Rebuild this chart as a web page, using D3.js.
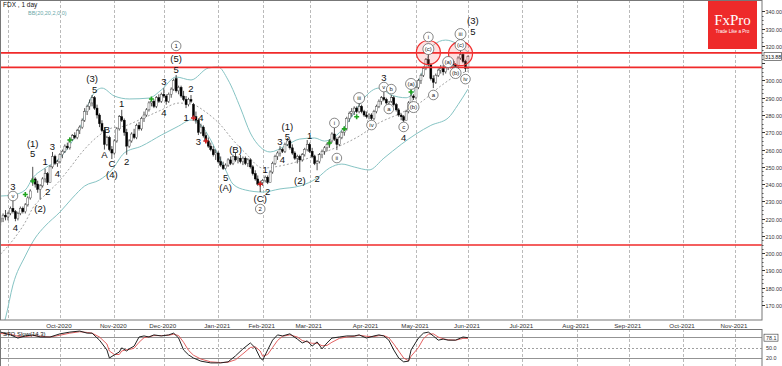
<!DOCTYPE html>
<html><head><meta charset="utf-8">
<script src="https://cdn.jsdelivr.net/npm/d3@7/dist/d3.min.js"></script>
<style>
html,body{margin:0;padding:0;background:#fff;overflow:hidden;}
svg{display:block;font-family:"Liberation Sans",Arial,sans-serif;}
</style></head><body>
<svg id="c" width="782" height="366"></svg>
<script>
// ---------------- DATA ----------------
const symbolTitle = "FDX , 1 day";
const bbTitle = "BB(20,20,2,0,0)";
const stochTitle = "STO Slow(14,3)";
const firstBarIndex = -3;           // bar index of first candle (0 = first bar of Sep-2020)
// daily candles [open, high, low, close]
const candles = [
[218,221,216,220],[220,223,218,222],[222,225,219,221],[221,224,219,223],[223,227,222,226],
[226,231,223,224],[224,225,218.5,220],[220,224,219,223],[223,227,222,226],[226,227,223,224],
[224,229,223,228],[228,233,227,232],[232,237,231,236],[241,250,239,243],[243,244,238,240],
[240,242,235,237],[237,240,231,239],[239,244,238,243],[243,249,241,246],[246,247,239.5,241],
[241,251,241,250],[250,258.6,249,256],[256,257,251,252],[252,254,250,253],[253,258,252,257],
[257,260,255,259],[259,263,258,262],[262,264,260,261],[261,267,260,266],[266,269,265,268],
[268,270,266,267],[267,272,266,271],[271,274,269,273],[273,278,272,277],[277,284,276,282],
[282,286,280,285],[285,289,283,287],[287,291.6,285,290],[290,291,283,284],[284,286,278,280],
[280,281,273,275],[275,277,270,271],[271,273,260,263],[263,268,262,267],[267,268,259,260],
[260,262,254.5,258],[258,266,257,265],[265,273,264,272],[272,280,271,279],[279,283,276,277],
[277,278,268,270],[270,272,257,262],[262,266,261,265],[265,270,264,269],[269,272,266,267],
[267,275,266,274],[274,276,271,272],[272,279,271,278],[278,282,276,280],[280,284,279,283],
[283,288,282,287],[287,290,285,288],[288,289,284,285],[285,291,284,290],[290,292,287,288],
[288,293,287,292],[292,295.6,290,291],[291,292,286,288],[288,293,287,292],[292,296,290,295],
[295,301,294,300],[301,303.2,293,294],[294,297,292,296],[296,297,290,291],[291,294,288,289],
[289,291,284,286],[286,290,285,289],[289,291.6,287,288],[286,287,277,279],[279,282,275,277],
[277,278,268.4,270],[270,275,269,273],[273,274,267,268],[268,270,264,265],[265,267,261,262],
[262,264,259,260],[260,262,256,257],[257,260,254,258],[258,259,252,253],[253,256,250,251],
[251,253,248.2,249],[249,252,248.5,251],[251,255,250,254],[254,256,251,252],[252,257,251,256],
[256,258,253,254],[254,256,252,255],[255,257,252,253],[253,256,251,255],[255,256,251,252],
[252,255,250,254],[254,255,249,250],[250,251,245,246],[246,248,242,243],[243,245,239,240],
[240,242,235.4,241],[241,243,239,242],[242,245,241,244],[244,245,240,241],[241,248,241,247],
[247,253,246,252],[252,257,251,256],[256,259,254,258],[258,262,256,260],[260,261,258,259],
[259,264,258,263],[263,266.7,262,265],[265,266,260,261],[261,263,257,258],[258,259,254,255],
[255,257,252,256],[256,257,247,254],[254,258,253,257],[257,261,256,260],[260,265.5,259,263],
[263,264,258,259],[259,261,255,256],[256,257,251,252],[252,254,248,253],[253,258,252,257],
[257,260,255,259],[259,262,257,261],[261,264,259,263],[263,266,261,265],[265,270,264,269],
[269,272.5,265,266],[266,267,259.7,263],[263,268,262,267],[267,271,266,270],[270,273,268,272],
[272,279,271,278],[278,282,276,281],[281,284,279,282],[282,285,280,284],[284,285,281,282],
[282,287,281,285],[285,286,281,282],[282,283,279,280],[280,282,278,279],[279,281,277.5,280],
[280,281,277,278],[278,283,277,282],[282,286,281,285],[285,289,284,288],[288,291,286,290],
[290,293.3,288,289],[289,290,286,287],[287,288,285.8,288],[288,291.6,287,290],[290,291,285,286],
[286,287,282,283],[283,284,279,280],[280,281,277,279],[279,280,276,277],[277,283,277,282],
[282,288,281,287],[287,294.5,286,291],[291,292,288.7,290],[290,297,289,296],[296,301,295,300],
[300,304,298,303],[303,308,302,307],[307,313,306,312],[312,316.5,308,309],[309,310,300,301],
[301,303,295.6,299],[299,304,298,303],[303,307,302,306],[306,309,304,307],[307,309,303,305],
[305,310,304,309],[309,311,306,308],[308,312,307,311],[311,312,307,309],[309,310,306.5,308],
[308,314,307,313],[313,318.8,312,315],[315,316,310,311],[311,312,305,307],[307,314.5,306.5,313.88]
];
const lastPrice = 313.88;

// Bollinger bands (bar index, value)
const bbUpperIdx = [-3,2,7,10,15,20,25,29,34,38,43,49,57,62,68,74,81,85,89,94,98,102,106,112,118,124,128,132,136,140,144,150,155,161,165,169,172,177,181,186];
const bbUpperVal = [233.1,233.7,236.6,243.5,249.3,253.9,262.6,272.5,291,295.6,291,289.3,289.8,294.5,302,300.3,307.2,307.8,300.3,284.1,269.6,261.5,258.6,262,266.1,266.7,264.9,267.3,273,281.2,289.8,295.6,291.6,290,295.6,310.7,320.5,323.4,321.7,316.5];
const bbMidIdx = [-3,2,7,10,15,20,25,30,37,42,47,53,62,69,74,80,86,91,96,103,110,118,126,134,142,150,159,167,175,181,186];
const bbMidVal = [199.5,207.6,218,226.1,233.7,240.6,249.3,258.6,268.4,272.5,273.6,277.1,282.9,286.9,286.4,281.7,274.2,265.5,258,249.3,250.5,253.4,257.4,262,267.8,275.4,281.2,287.5,296.8,302.6,305.5];
const bbLowerIdx = [-4,-1,2,7,11,15,21,26,31,37,42,47,54,62,69,74,78,82,85,88,91,96,103,110,118,125,130,135,140,146,152,159,165,171,178,182,186];
const bbLowerVal = [150,162.5,181.6,198.4,208.8,215.7,223.8,231.9,238.9,242.4,248.2,258,262,268.4,273.6,277.1,274.2,265.5,256.8,248.2,240,236.6,235.4,237.2,238.9,243.5,249.3,251.6,249.9,248.2,255,263,269,274,278.3,286,295];

// Stochastic
const stochIdx = [-3,1,4,7,10,13,17,21,25,29,32,34,37,40,41,43,45,46,48,49,51,53,55,57,59,62,65,67,69,71,73,75,78,82,86,89,92,95,98,100,102,103,105,107,109,111,114,117,119,121,123,125,127,129,131,134,137,140,142,145,148,150,152,154,156,158,160,162,163,166,168,170,172,174,176,178,181,183,184,186];
const stochK = [94,86,77,83,86,80,80,89,94,97,91,91,71,43,20,29,37,49,40,46,54,80,83,80,86,83,86,91,77,43,29,20,11,6,6,9,26,46,63,49,20,14,43,71,86,83,89,74,63,69,54,66,46,63,77,80,83,83,86,77,83,86,83,71,43,20,9,11,43,77,91,94,83,71,74,71,71,77,80,78];
const stochD = [90,88,82,81,84,82,80,85,91,95,93,91,80,60,40,30,30,40,44,44,48,65,78,81,84,84,85,88,84,65,42,28,17,9,7,8,15,32,50,52,40,25,30,50,70,82,86,80,70,66,62,62,55,56,65,76,80,82,85,82,81,84,84,78,60,40,20,12,25,50,75,88,89,80,75,72,71,74,76,76];
const stochLevels = [80, 50, 20];
const stochLast = 78.1;

// axes
const monthIdx = [0,21,43,63,85,103,122,145,165,186,208,230,251,273,294];
const monthLabels = ["","Oct-2020","Nov-2020","Dec-2020","Jan-2021","Feb-2021","Mar-2021","Apr-2021","May-2021","Jun-2021","Jul-2021","Aug-2021","Sep-2021","Oct-2021","Nov-2021"];
const priceTicks = [170,180,190,200,210,220,230,240,250,260,270,280,290,300,310,320,330,340];
const levelLines = [316.0, 307.6, 204.7];

// Elliott wave annotations [barIndex, price, text, circled]
const waveLabels = [
[2,238.9,"3",0],[2,233.1,"v",1],[3,214.6,"4",0],[10,263.8,"(1)",0],[10,258,"5",0],[13,226.1,"(2)",0],
[15,252.8,"1",0],[16,236,"2",0],[18,262,"3",0],[20,246.4,"4",0],[34,301.4,"(3)",0],[35,295,"5",0],
[40,271.9,"B",0],[39,257.4,"A",0],[42,252.2,"C",0],[42,245.8,"(4)",0],[46,286.9,"1",0],[48,252.8,"2",0],
[63,299.7,"3",0],[63,281.7,"4",0],[68,320,"1",1],[68,313,"(5)",0],[68,306.6,"5",0],[74,295.6,"2",0],
[72,278.8,"1",0],[78,278.8,"4",0],[77,264.9,"3",0],[88,244.1,"5",0],[88,238.3,"(A)",0],[92,260.3,"(B)",0],
[104,248.7,"1",0],[105,236,"2",0],[102,231.4,"(C)",0],[102,225.6,"2",1],[110,264.4,"3",0],[113,267.6,"5",0],
[113,273.6,"(1)",0],[111,254.5,"4",0],[118,241.8,"(2)",0],[122,268.4,"1",0],[125,243.5,"2",0],
[132,275.4,"i",1],[133,255.1,"ii",1],[142,289.8,"iii",1],[147,274.2,"iv",1],[152,302,"3",0],[152,296.2,"v",1],
[155,295,"b",1],[154,283.5,"a",1],[160,273.1,"c",1],[160,266.7,"4",0],[163,298,"(a)",1],[164,284.6,"(b)",1],
[170,325.2,"i",1],[170,318.2,"(c)",1],[172,291.6,"a",1],[178,310.7,"(a)",1],[181,304.3,"(b)",1],
[183,326.9,"iii",1],[183,320.5,"(c)",1],[185,300.8,"iv",1],[188,335,"(3)",0],[188,328.6,"5",0]
];
const highlightCircles = [[170,316.2],[183,315.5]];
const greenMarks = [[7,234],[10,241.8],[25,265.5],[58,289.3],[130,263.8],[136,272],[141,279],[163,293.3]];
const redMarks = [[75,278.3],[80,265],[102,240]];

// ---------------- DRAW ----------------
const svg = d3.select("#c");
const plotR = 762, mainB = 320, indT = 329, indB = 366;
const x = d3.scaleLinear().domain([0,294]).range([8,735]);
const y = d3.scaleLinear().domain([170,340]).range([305,11.4]);
const yi = d3.scaleLinear().domain([0,100]).range([365,330]);

const defs = svg.append("defs");
defs.append("clipPath").attr("id","cm").append("rect").attr("x",0).attr("y",0).attr("width",plotR).attr("height",mainB);
defs.append("clipPath").attr("id","ci").append("rect").attr("x",0).attr("y",indT).attr("width",plotR).attr("height",indB-indT);

svg.append("rect").attr("width",782).attr("height",366).attr("fill","#fff");

// vertical grid
const grid = svg.append("g");
monthIdx.forEach(i=>{
  const gx = Math.round(x(i))+0.5;
  grid.append("line").attr("x1",gx).attr("x2",gx).attr("y1",0).attr("y2",mainB).attr("stroke","#a8a8a8").attr("stroke-dasharray","3,2").attr("stroke-width",0.8);
  grid.append("line").attr("x1",gx).attr("x2",gx).attr("y1",indT).attr("y2",indB).attr("stroke","#a8a8a8").attr("stroke-dasharray","3,2").attr("stroke-width",0.8);
});

const main = svg.append("g").attr("clip-path","url(#cm)");

// Bollinger bands
const bbLine = (idx, vals) => d3.line().x((d,k)=>x(idx[k])).y(d=>y(d)).curve(d3.curveMonotoneX)(vals);
main.append("path").attr("d",bbLine(bbUpperIdx,bbUpperVal)).attr("fill","none").attr("stroke","#86c4c4").attr("stroke-width",1);
main.append("path").attr("d",bbLine(bbLowerIdx,bbLowerVal)).attr("fill","none").attr("stroke","#86c4c4").attr("stroke-width",1);
main.append("path").attr("d",bbLine(bbMidIdx,bbMidVal)).attr("fill","none").attr("stroke","#8a8a8a").attr("stroke-width",0.8).attr("stroke-dasharray","2,2");

// candles
const cg = main.append("g");
candles.forEach((c,k)=>{
  const i = firstBarIndex + k;
  const cx = x(i);
  const [o,h,l,cl] = c;
  cg.append("line").attr("x1",cx).attr("x2",cx).attr("y1",y(h)).attr("y2",y(l)).attr("stroke","#222").attr("stroke-width",0.8);
  const top = y(Math.max(o,cl)), bot = y(Math.min(o,cl));
  const up = cl >= o;
  cg.append("rect").attr("x",cx-1).attr("y",top).attr("width",2).attr("height",Math.max(0.8,bot-top))
    .attr("fill", up ? "#fff" : "#000").attr("stroke", up ? "#444" : "#000").attr("stroke-width",0.45);
});

// markers
greenMarks.forEach(m=>{
  const mx = x(m[0]), my = y(m[1]);
  main.append("path").attr("d",`M${mx-2.5},${my}H${mx+2.5}M${mx},${my-2.5}V${my+2.5}`).attr("stroke","#1fa51f").attr("stroke-width",1.6);
});
redMarks.forEach(m=>{
  const mx = x(m[0]), my = y(m[1]);
  main.append("path").attr("d",`M${mx-2.5},${my}H${mx+2.5}M${mx},${my-2.5}V${my+2.5}`).attr("stroke","#d02020").attr("stroke-width",1.6);
});

// level lines
levelLines.forEach(v=>{
  main.append("line").attr("x1",0).attr("x2",plotR).attr("y1",y(v)).attr("y2",y(v)).attr("stroke","#f02a2a").attr("stroke-width",1.6);
});

// highlight circles
highlightCircles.forEach(h=>{
  main.append("circle").attr("cx",x(h[0])).attr("cy",y(h[1])).attr("r",12).attr("fill","rgba(255,60,60,0.16)").attr("stroke","#f03030").attr("stroke-width",1.2);
});

// wave labels
const wl = main.append("g");
waveLabels.forEach(w=>{
  const lx = x(w[0]), ly = y(w[1]);
  if (w[3]) {
    const r = w[2].length > 2 ? 5.5 : 4.8;
    wl.append("circle").attr("cx",lx).attr("cy",ly).attr("r",r).attr("fill","#fff").attr("stroke","#555").attr("stroke-width",0.7);
    wl.append("text").attr("x",lx).attr("y",ly).attr("text-anchor","middle").attr("dominant-baseline","central")
      .attr("font-size",6).attr("fill","#222").text(w[2]);
  } else {
    wl.append("text").attr("x",lx).attr("y",ly).attr("text-anchor","middle").attr("dominant-baseline","central")
      .attr("font-size",9.5).attr("fill","#111").text(w[2]);
  }
});

// logo
svg.append("rect").attr("x",708).attr("y",0).attr("width",49).attr("height",49).attr("fill","#ee2a2a");
svg.append("text").attr("x",732.5).attr("y",25).attr("text-anchor","middle").attr("font-family","'Liberation Serif','DejaVu Serif',serif")
  .attr("font-size",15).attr("fill","#fff").text("FxPro");
svg.append("text").attr("x",732.5).attr("y",33).attr("text-anchor","middle").attr("font-size",4.6).attr("fill","#fff").text("Trade Like a Pro");

// titles
svg.append("text").attr("x",3).attr("y",7).attr("font-size",6.5).attr("fill","#111").text(symbolTitle);
svg.append("text").attr("x",28).attr("y",15).attr("font-size",5.5).attr("fill","#6aa8a8").text(bbTitle);

// frames
svg.append("rect").attr("x",0.5).attr("y",0.5).attr("width",plotR-0.5).attr("height",mainB-0.5).attr("fill","none").attr("stroke","#777").attr("stroke-width",1);
svg.append("rect").attr("x",0.5).attr("y",indT+0.5).attr("width",plotR-0.5).attr("height",indB-indT).attr("fill","none").attr("stroke","#777").attr("stroke-width",1);

// price axis
const ax = svg.append("g");
priceTicks.forEach(v=>{
  const ty = Math.round(y(v))+0.5;
  ax.append("line").attr("x1",plotR).attr("x2",plotR+3).attr("y1",ty).attr("y2",ty).attr("stroke","#333");
  if (Math.abs(v - lastPrice) > 5)
    ax.append("text").attr("x",plotR+3.5).attr("y",ty).attr("dominant-baseline","central").attr("font-size",5.4).attr("fill","#333").text(v.toFixed(2));
});
d3.range(172.5,340,2.5).forEach(v=>{
  if (v % 10 === 0) return;
  const ty = Math.round(y(v))+0.5;
  ax.append("line").attr("x1",plotR).attr("x2",plotR+1.5).attr("y1",ty).attr("y2",ty).attr("stroke","#555");
});
// last price box
const lpY = y(lastPrice);
ax.append("rect").attr("x",plotR+2).attr("y",lpY-4).attr("width",17.5).attr("height",8).attr("fill","#fff").attr("stroke","#333").attr("stroke-width",0.6);
ax.append("text").attr("x",plotR+3).attr("y",lpY).attr("dominant-baseline","central").attr("font-size",5.3).attr("fill","#111").text(lastPrice.toFixed(2));

// date labels
monthIdx.forEach((i,k)=>{
  if (!monthLabels[k]) return;
  svg.append("text").attr("x",x(i)-1).attr("y",325).attr("text-anchor","middle").attr("dominant-baseline","central")
    .attr("font-size",6.2).attr("fill","#333").text(monthLabels[k]);
});

// stochastic panel
const ind = svg.append("g").attr("clip-path","url(#ci)");
stochLevels.forEach(v=>{
  ind.append("line").attr("x1",0).attr("x2",plotR).attr("y1",Math.round(yi(v))+0.5).attr("y2",Math.round(yi(v))+0.5)
    .attr("stroke", v===50 ? "#888" : "#777").attr("stroke-width",0.8).attr("stroke-dasharray", v===50 ? "2,2" : null);
});
const sLine = vals => d3.line().x((d,k)=>x(stochIdx[k])).y(d=>yi(d))(vals);
ind.append("path").attr("d",sLine(stochD)).attr("fill","none").attr("stroke","#e05050").attr("stroke-width",0.9);
ind.append("path").attr("d",sLine(stochK)).attr("fill","none").attr("stroke","#222").attr("stroke-width",1);
svg.append("text").attr("x",3).attr("y",333.5).attr("dominant-baseline","central").attr("font-size",6).attr("fill","#111").text(stochTitle);

// stochastic axis labels
[[stochLast, true],[50,false],[20,false]].forEach(([v,box])=>{
  const ty = yi(v);
  if (box) ax.append("rect").attr("x",plotR+2).attr("y",ty-3.5).attr("width",14).attr("height",7).attr("fill","#fff").attr("stroke","#333").attr("stroke-width",0.6);
  ax.append("text").attr("x",plotR+4).attr("y",ty).attr("dominant-baseline","central").attr("font-size",5.4).attr("fill","#333").text(v.toFixed(1));
});
</script>
</body></html>
